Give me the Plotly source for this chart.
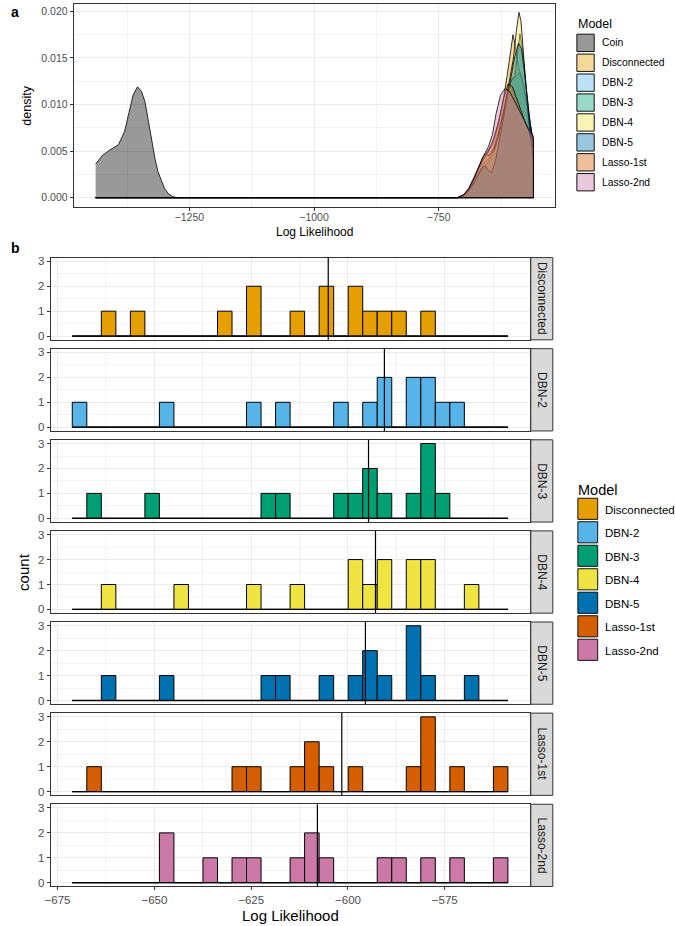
import plotly.graph_objects as go

W, H = 675, 926
FONT = "Liberation Sans, Arial, sans-serif"

# ---------------- data ----------------
MODELS_A = ["Coin", "Disconnected", "DBN-2", "DBN-3", "DBN-4", "DBN-5", "Lasso-1st", "Lasso-2nd"]
COLORS_A = ["#000000", "#E69F00", "#56B4E9", "#009E73", "#F0E442", "#0072B2", "#D55E00", "#CC79A7"]
MODELS_B = ["Disconnected", "DBN-2", "DBN-3", "DBN-4", "DBN-5", "Lasso-1st", "Lasso-2nd"]
COLORS_B = ["#E69F00", "#56B4E9", "#009E73", "#F0E442", "#0072B2", "#D55E00", "#CC79A7"]

# panel a: density curves (x = log likelihood, y = density)
DENS_COIN_X = [-1438, -1425, -1410, -1392, -1380, -1372, -1363, -1354, -1346, -1339, -1332,
               -1326, -1319, -1313, -1306, -1300, -1292, -1283, -1275, -560]
DENS_COIN_Y = [0.0036, 0.0045, 0.0051, 0.0057, 0.0071, 0.0089, 0.0110, 0.0119, 0.0114, 0.0103,
               0.0082, 0.0060, 0.0042, 0.0028, 0.0017, 0.0010, 0.0004, 0.0001, 0.0, 0.0]
DENS_DISC_X = [-1438, -712, -700, -690, -680, -670, -660, -652, -642, -632, -622, -613, -606,
               -601, -596, -590, -583, -575, -567, -560]
DENS_DISC_Y = [0, 0, 0.0003, 0.0009, 0.0019, 0.0031, 0.0044, 0.0050, 0.0058, 0.0075, 0.0100,
               0.0130, 0.0160, 0.0175, 0.0162, 0.0140, 0.0128, 0.0105, 0.0080, 0.0060]
DENS_DBN2_X = [-1438, -712, -700, -690, -680, -670, -660, -650, -640, -630, -620, -610, -602,
               -595, -588, -580, -572, -565, -560]
DENS_DBN2_Y = [0, 0, 0.0002, 0.0007, 0.0016, 0.0027, 0.0036, 0.0042, 0.0052, 0.0070, 0.0093,
               0.0118, 0.0128, 0.0130, 0.0134, 0.0122, 0.0098, 0.0074, 0.0058]
DENS_DBN3_X = [-1438, -712, -700, -690, -680, -670, -660, -650, -640, -630, -620, -610, -603,
               -597, -592, -587, -582, -576, -570, -565, -560]
DENS_DBN3_Y = [0, 0, 0.0002, 0.0007, 0.0015, 0.0025, 0.0033, 0.0038, 0.0048, 0.0066, 0.0090,
               0.0118, 0.0127, 0.0130, 0.0155, 0.0176, 0.0160, 0.0125, 0.0090, 0.0066, 0.0050]
DENS_DBN4_X = [-1438, -712, -700, -690, -680, -670, -662, -656, -650, -640, -630, -620, -610,
               -600, -594, -589, -585, -581, -576, -570, -565, -560]
DENS_DBN4_Y = [0, 0, 0.0002, 0.0008, 0.0018, 0.0032, 0.0043, 0.0047, 0.0045, 0.0050, 0.0066,
               0.0090, 0.0118, 0.0150, 0.0180, 0.0199, 0.0190, 0.0160, 0.0120, 0.0085, 0.0060, 0.0040]
DENS_DBN5_X = [-1438, -712, -700, -690, -680, -670, -662, -656, -650, -644, -636, -626, -616,
               -606, -598, -590, -584, -578, -572, -566, -560]
DENS_DBN5_Y = [0, 0, 0.0002, 0.0007, 0.0015, 0.0025, 0.0033, 0.0034, 0.0029, 0.0027, 0.0040,
               0.0068, 0.0098, 0.0128, 0.0150, 0.0166, 0.0160, 0.0135, 0.0105, 0.0078, 0.0055]
DENS_L1_X = [-1438, -712, -700, -690, -680, -670, -660, -650, -640, -630, -620, -611, -602,
             -594, -586, -578, -570, -565, -560]
DENS_L1_Y = [0, 0, 0.0003, 0.0009, 0.0019, 0.0031, 0.0041, 0.0050, 0.0063, 0.0082, 0.0106,
             0.0122, 0.0119, 0.0108, 0.0095, 0.0083, 0.0072, 0.0066, 0.0062]
DENS_L2_X = [-1438, -712, -700, -690, -680, -670, -660, -650, -642, -635, -626, -617, -608,
             -598, -588, -578, -570, -565, -560]
DENS_L2_Y = [0, 0, 0.0003, 0.0010, 0.0021, 0.0034, 0.0045, 0.0055, 0.0068, 0.0090, 0.0110,
             0.0117, 0.0114, 0.0104, 0.0093, 0.0082, 0.0074, 0.0070, 0.0066]

DENS_X = [DENS_COIN_X, DENS_DISC_X, DENS_DBN2_X, DENS_DBN3_X, DENS_DBN4_X, DENS_DBN5_X, DENS_L1_X, DENS_L2_X]
DENS_Y = [DENS_COIN_Y, DENS_DISC_Y, DENS_DBN2_Y, DENS_DBN3_Y, DENS_DBN4_Y, DENS_DBN5_Y, DENS_L1_Y, DENS_L2_Y]

# panel b: histogram bins (30 bins) and counts per bin
BIN_START = -671.2
BIN_WIDTH = 3.75
N_BINS = 30
COUNTS_DISC = [0,0,1,0,1,0,0,0,0,0,1,0,2,0,0,1,0,2,0,2,1,1,1,0,1,0,0,0,0,0]
COUNTS_DBN2 = [1,0,0,0,0,0,1,0,0,0,0,0,1,0,1,0,0,0,1,0,1,2,0,2,2,1,1,0,0,0]
COUNTS_DBN3 = [0,1,0,0,0,1,0,0,0,0,0,0,0,1,1,0,0,0,1,1,2,1,0,1,3,1,0,0,0,0]
COUNTS_DBN4 = [0,0,1,0,0,0,0,1,0,0,0,0,1,0,0,1,0,0,0,2,1,2,0,2,2,0,0,1,0,0]
COUNTS_DBN5 = [0,0,1,0,0,0,1,0,0,0,0,0,0,1,1,0,0,1,0,1,2,1,0,3,1,0,0,1,0,0]
COUNTS_L1 = [0,1,0,0,0,0,0,0,0,0,0,1,1,0,0,1,2,1,0,1,0,0,0,1,3,0,1,0,0,1]
COUNTS_L2 = [0,0,0,0,0,0,2,0,0,1,0,1,1,0,0,1,2,1,0,0,0,1,1,0,1,0,1,0,0,1]
COUNTS = [COUNTS_DISC, COUNTS_DBN2, COUNTS_DBN3, COUNTS_DBN4, COUNTS_DBN5, COUNTS_L1, COUNTS_L2]
MEDIANS = [-605.1, -590.6, -594.7, -592.9, -595.5, -601.6, -607.9]

A_XTICKS = [-1250, -1000, -750]
A_YTICKS = [0.0, 0.005, 0.010, 0.015, 0.020]
B_XTICKS = [-675, -650, -625, -600, -575]
B_YTICKS = [0, 1, 2, 3]


# ---------------- helpers ----------------
def fx(p):
    return p / W


def fy(p):
    return 1 - p / H


def rgba(hexc, a):
    h = hexc.lstrip("#")
    return "rgba(%d,%d,%d,%.2f)" % (int(h[0:2], 16), int(h[2:4], 16), int(h[4:6], 16), a)


def axis(**kw):
    d = dict(showline=True, mirror=True, linecolor="#333333", linewidth=1,
             showgrid=True, gridcolor="#EBEBEB", gridwidth=1, zeroline=False,
             ticks="outside", ticklen=3, tickcolor="#333333", tickwidth=1,
             tickfont=dict(family=FONT, size=11, color="#4D4D4D"),
             layer="below traces")
    d.update(kw)
    return d


fig = go.Figure()
shapes = []
annotations = []

# ---------------- panel a ----------------
for name, col, xs, ys in zip(MODELS_A, COLORS_A, DENS_X, DENS_Y):
    fig.add_trace(go.Scatter(
        x=list(xs) + [xs[-1], xs[0]], y=list(ys) + [0, 0],
        mode="lines", fill="toself", fillcolor=rgba(col, 0.4),
        line=dict(color="black", width=0.8), name=name,
        xaxis="x", yaxis="y", hoverinfo="skip"))

A_L, A_R, A_T, A_B = 68.3, 554.3, 2.0, 205.7
layout_axes = {}
layout_axes["xaxis"] = axis(domain=[fx(A_L), fx(A_R)], range=[-1482, -516], anchor="y",
                            tickvals=A_XTICKS, ticklabelstandoff=-2,
                            tickfont=dict(family=FONT, size=10.5, color="#4D4D4D"),
                            minor=dict(showgrid=True, gridcolor="#F3F3F3", gridwidth=0.6,
                                       tickvals=[-1375, -1125, -875, -625]))
layout_axes["yaxis"] = axis(domain=[fy(A_B), fy(A_T)], range=[-0.00099, 0.0208], anchor="x",
                            tickvals=A_YTICKS, tickformat=".3f",
                            tickfont=dict(family=FONT, size=10.5, color="#4D4D4D"),
                            minor=dict(showgrid=True, gridcolor="#F3F3F3", gridwidth=0.6,
                                       tickvals=[0.0025, 0.0075, 0.0125, 0.0175]))

annotations.append(dict(text="<b>a</b>", x=fx(3), y=fy(10.5), xref="paper", yref="paper",
                        xanchor="left", yanchor="middle", showarrow=False,
                        font=dict(family=FONT, size=14, color="black")))
annotations.append(dict(text="density", x=fx(21.5), y=fy((A_T + A_B) / 2), xref="paper", yref="paper",
                        textangle=-90, xanchor="center", yanchor="middle", showarrow=False,
                        font=dict(family=FONT, size=12.5, color="black")))
annotations.append(dict(text="Log Likelihood", x=fx((A_L + A_R) / 2), y=fy(230.5), xref="paper", yref="paper",
                        xanchor="center", yanchor="middle", showarrow=False,
                        font=dict(family=FONT, size=12, color="black")))

# legend a
annotations.append(dict(text="Model", x=fx(575), y=fy(22.5), xref="paper", yref="paper",
                        xanchor="left", yanchor="middle", showarrow=False,
                        font=dict(family=FONT, size=12.5, color="black")))
for i, (name, col) in enumerate(zip(MODELS_A, COLORS_A)):
    cy = 41 + 20 * i
    shapes.append(dict(type="rect", xref="paper", yref="paper",
                       x0=fx(576), x1=fx(593.5), y0=fy(cy + 8.7), y1=fy(cy - 8.7),
                       fillcolor=rgba(col, 0.4), line=dict(color="#111111", width=1)))
    annotations.append(dict(text=name, x=fx(599), y=fy(cy), xref="paper", yref="paper",
                            xanchor="left", yanchor="middle", showarrow=False,
                            font=dict(family=FONT, size=10.3, color="black")))

# ---------------- panel b ----------------
B_L, B_R = 45.0, 528.3
B_TOP0, B_PITCH, B_HEIGHT = 256.7, 91.5, 82.6
S_L, S_R = 529.5, 551.7
centers = [BIN_START + (i + 0.5) * BIN_WIDTH for i in range(N_BINS)]
bin_end = BIN_START + N_BINS * BIN_WIDTH

for k, (name, col, cnts, med) in enumerate(zip(MODELS_B, COLORS_B, COUNTS, MEDIANS)):
    ax = k + 2
    xa, ya = "x%d" % ax, "y%d" % ax
    top = B_TOP0 + B_PITCH * k
    bot = top + B_HEIGHT
    fig.add_trace(go.Bar(x=centers, y=cnts, width=BIN_WIDTH, name=name,
                         marker=dict(color=col, line=dict(color="black", width=1)),
                         xaxis=xa, yaxis=ya, hoverinfo="skip"))
    fig.add_trace(go.Scatter(x=[BIN_START, bin_end], y=[0, 0], mode="lines",
                             line=dict(color="black", width=1.3), xaxis=xa, yaxis=ya,
                             hoverinfo="skip", showlegend=False))
    last = (k == len(MODELS_B) - 1)
    layout_axes["xaxis%d" % ax] = axis(
        domain=[fx(B_L), fx(B_R)], range=[-676.8, -553.1], anchor=ya,
        tickvals=B_XTICKS, showticklabels=last, ticks="outside" if last else "",
        tickfont=dict(family=FONT, size=11.5, color="#4D4D4D"),
        minor=dict(showgrid=True, gridcolor="#F3F3F3", gridwidth=0.6,
                   tickvals=[-662.5, -637.5, -612.5, -587.5, -562.5]))
    layout_axes["yaxis%d" % ax] = axis(
        domain=[fy(bot), fy(top)], range=[-0.15, 3.15], anchor=xa,
        tickvals=B_YTICKS, tickfont=dict(family=FONT, size=11.5, color="#4D4D4D"),
        minor=dict(showgrid=True, gridcolor="#F3F3F3", gridwidth=0.6,
                   tickvals=[0.5, 1.5, 2.5]))
    shapes.append(dict(type="line", xref=xa, yref=ya + " domain", x0=med, x1=med, y0=0, y1=1,
                       line=dict(color="black", width=1.2)))
    # strip
    shapes.append(dict(type="rect", xref="paper", yref="paper",
                       x0=fx(S_L), x1=fx(S_R), y0=fy(bot), y1=fy(top),
                       fillcolor="#D9D9D9", line=dict(color="#333333", width=1)))
    annotations.append(dict(text=name, x=fx((S_L + S_R) / 2), y=fy((top + bot) / 2),
                            xref="paper", yref="paper", textangle=90,
                            xanchor="center", yanchor="middle", showarrow=False,
                            font=dict(family=FONT, size=12, color="#1A1A1A")))

annotations.append(dict(text="<b>b</b>", x=fx(3), y=fy(247.5), xref="paper", yref="paper",
                        xanchor="left", yanchor="middle", showarrow=False,
                        font=dict(family=FONT, size=14, color="black")))
b_bottom = B_TOP0 + B_PITCH * (len(MODELS_B) - 1) + B_HEIGHT
annotations.append(dict(text="count", x=fx(17), y=fy((B_TOP0 + b_bottom) / 2), xref="paper", yref="paper",
                        textangle=-90, xanchor="center", yanchor="middle", showarrow=False,
                        font=dict(family=FONT, size=15, color="black")))
annotations.append(dict(text="Log Likelihood", x=fx((B_L + B_R) / 2), y=fy(917), xref="paper", yref="paper",
                        xanchor="center", yanchor="middle", showarrow=False,
                        font=dict(family=FONT, size=15, color="black")))

# legend b
annotations.append(dict(text="Model", x=fx(575), y=fy(490), xref="paper", yref="paper",
                        xanchor="left", yanchor="middle", showarrow=False,
                        font=dict(family=FONT, size=14.5, color="black")))
for i, (name, col) in enumerate(zip(MODELS_B, COLORS_B)):
    cy = 509 + 23.6 * i
    shapes.append(dict(type="rect", xref="paper", yref="paper",
                       x0=fx(577), x1=fx(597), y0=fy(cy + 10.6), y1=fy(cy - 10.6),
                       fillcolor=col, line=dict(color="#111111", width=1)))
    annotations.append(dict(text=name, x=fx(602), y=fy(cy + 1), xref="paper", yref="paper",
                            xanchor="left", yanchor="middle", showarrow=False,
                            font=dict(family=FONT, size=11.5, color="black")))

fig.update_layout(width=W, height=H, margin=dict(l=0, r=0, t=0, b=0),
                  paper_bgcolor="white", plot_bgcolor="white", showlegend=False,
                  font=dict(family=FONT, color="#4D4D4D"),
                  shapes=shapes, annotations=annotations, **layout_axes)

# remove the default page margin so the 675x926 figure fills the window exactly
fig.write_html("out.html", config={"displayModeBar": False},
               post_script="document.body.style.margin='0';document.body.style.overflow='hidden';")
